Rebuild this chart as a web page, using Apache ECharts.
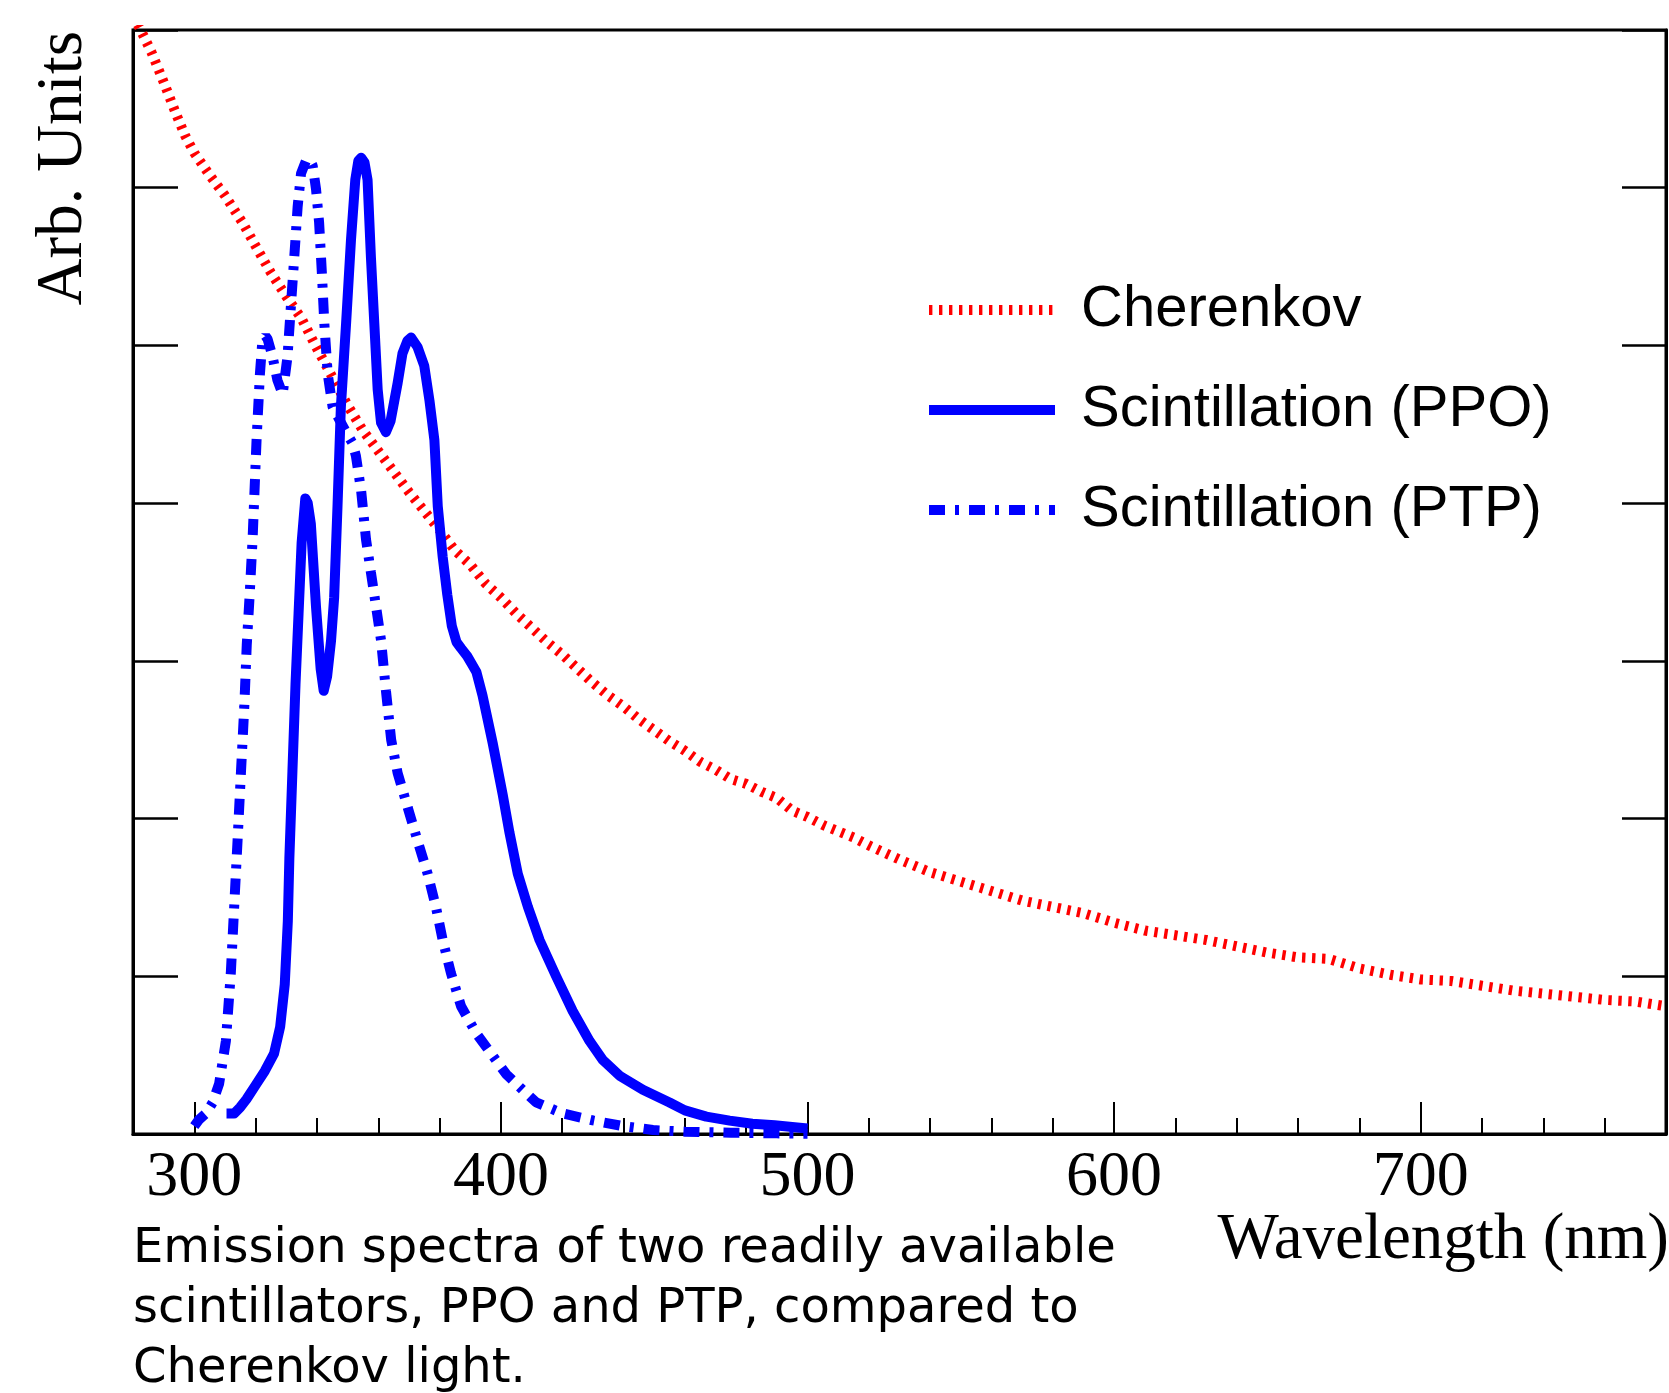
<!DOCTYPE html>
<html>
<head>
<meta charset="utf-8">
<script src="https://cdn.jsdelivr.net/npm/echarts@6/dist/echarts.min.js"></script>
<style>
html,body{margin:0;padding:0;background:#fff;}
#chart{width:1669px;height:1393px;}
</style>
</head>
<body>
<div id="chart"></div>
<script>
// ---- data ----
const xTickLabels = [300, 400, 500, 600, 700];
const seriesNames = ['Cherenkov', 'Scintillation (PPO)', 'Scintillation (PTP)'];
const xTitle = 'Wavelength (nm)';
const yTitle = 'Arb. Units';
const captionLines = [
  'Emission spectra of two readily available',
  'scintillators, PPO and PTP, compared to',
  'Cherenkov light.'
];

const cherWl = [280, 282.5, 286, 290, 294, 297, 300, 305, 310, 316, 320,
  325, 330, 335, 340, 345, 350, 355, 360, 365, 370,
  375, 380, 385, 390, 395, 400, 405, 410, 415, 420,
  425, 430, 435, 440, 445, 450, 455, 460, 465, 470,
  475, 480, 485, 490, 495, 500, 505, 510, 515, 520,
  530, 540, 550, 560, 570, 580, 590, 600, 610, 620,
  630, 640, 650, 660, 670, 680, 690, 700, 710, 720,
  730, 740, 750, 760, 770, 780];
const cherVal = [7.09, 7.0, 6.86, 6.67, 6.47, 6.33, 6.22, 6.08, 5.95, 5.77, 5.63,
  5.46, 5.31, 5.17, 4.98, 4.80, 4.62, 4.46, 4.33, 4.20, 4.07,
  3.95, 3.83, 3.70, 3.61, 3.49, 3.40, 3.30, 3.21, 3.12, 3.04,
  2.95, 2.86, 2.78, 2.71, 2.63, 2.56, 2.49, 2.43, 2.36, 2.31,
  2.25, 2.22, 2.17, 2.13, 2.05, 2.01, 1.96, 1.92, 1.88, 1.83,
  1.74, 1.66, 1.60, 1.54, 1.48, 1.44, 1.40, 1.34, 1.29, 1.26,
  1.23, 1.19, 1.15, 1.12, 1.11, 1.05, 1.01, 0.98, 0.97, 0.94,
  0.91, 0.89, 0.87, 0.85, 0.84, 0.81];

const ppoWl = [310.5, 313, 315, 317, 320, 323, 326, 328, 329.5, 330.5,
  331, 332, 333, 334, 335, 336.2, 337, 338, 339.7, 341.2,
  342.2, 343.3, 344.6, 345.6, 346.7, 347.8, 349.5, 351.1, 352.5, 353.5,
  354.4, 355.5, 356.5, 357.6, 358.7, 359.8, 360.9, 362.5, 364, 366.3,
  367.9, 369.5, 370.7, 372.8, 375, 376.7, 378.3, 379.4, 381, 382.5,
  384, 385.5, 387, 389, 390.5, 392, 394, 397.3, 400.6, 402.8,
  405.5, 408.8, 412.6, 418, 423.4, 428.9, 433.2, 438.7, 446.3, 455,
  460, 467, 474.6, 482, 489.3, 495, 500];
const ppoVal = [0.13, 0.13, 0.17, 0.22, 0.31, 0.40, 0.51, 0.68, 0.95, 1.35,
  1.75, 2.3, 2.85, 3.3, 3.75, 4.03, 4.0, 3.87, 3.34, 2.95,
  2.81, 2.9, 3.13, 3.4, 3.98, 4.61, 5.14, 5.67, 6.05, 6.17,
  6.19, 6.16, 6.05, 5.56, 5.14, 4.72, 4.51, 4.45, 4.52, 4.76,
  4.95, 5.03, 5.05, 4.99, 4.87, 4.65, 4.40, 3.98, 3.66, 3.42,
  3.22, 3.12, 3.08, 3.03, 2.98, 2.93, 2.78, 2.48, 2.15, 1.91,
  1.65, 1.44, 1.23, 1.0, 0.78, 0.59, 0.47, 0.37, 0.28, 0.2,
  0.15, 0.11, 0.085, 0.065, 0.055, 0.045, 0.035];

const ptpWl = [300, 301.5, 303.8, 306, 308.1, 310.3, 311.9, 313, 314.1, 315.2,
  316.3, 317.1, 318, 319, 320.3, 321.4, 322.2, 323.2, 323.9, 325.5,
  327.1, 328.8, 330.4, 331.5, 332.6, 333.7, 334.8, 336.4, 337.5, 338.6,
  339.7, 340.7, 341.6, 342.4, 343.5, 345.1, 347.3, 349.5, 351.6, 352.7,
  354.4, 356, 357.6, 359.3, 360.9, 362.5, 364.2, 366.3, 369.6, 372.8,
  376.1, 378.8, 381, 383.7, 387, 391.9, 396.8, 401.7, 407.1, 411.5,
  420.2, 430, 439.8, 449.6, 460, 475, 490, 500];
const ptpVal = [0.05, 0.09, 0.13, 0.2, 0.32, 0.59, 1.02, 1.44, 1.86, 2.29,
  2.71, 3.1, 3.4, 3.77, 4.40, 4.82, 5.03, 5.06, 5.04, 4.93,
  4.78, 4.69, 4.93, 5.25, 5.56, 5.88, 6.09, 6.17, 6.18, 6.14,
  5.99, 5.78, 5.46, 5.14, 4.82, 4.61, 4.53, 4.45, 4.38, 4.30,
  4.08, 3.77, 3.56, 3.34, 3.13, 2.81, 2.50, 2.29, 2.07, 1.86,
  1.65, 1.44, 1.23, 1.02, 0.81, 0.64, 0.51, 0.38, 0.28, 0.20,
  0.13, 0.086, 0.05, 0.025, 0.015, 0.008, 0.004, 0.002];

function pairs(xs, ys) { return xs.map(function (x, i) { return [x, ys[i]]; }); }

const chart = echarts.init(document.getElementById('chart'), null, { renderer: 'canvas' });

const axisBlack = { color: '#000', width: 3 };

const option = {
  backgroundColor: '#fff',
  animation: false,
  grid: {
    left: 133, top: 30, right: 3, bottom: 259,
    show: true, borderColor: '#000', borderWidth: 3, backgroundColor: 'transparent'
  },
  title: {
    text: captionLines.join('\n'),
    left: 133, top: 1220, padding: 0,
    textStyle: { fontFamily: 'DejaVu Sans', fontSize: 48, fontWeight: 'normal', color: '#000', lineHeight: 60 }
  },
  legend: {
    orient: 'vertical', left: 924, top: 280, padding: 0,
    itemWidth: 126, itemHeight: 20, itemGap: 40,
    textStyle: { fontFamily: 'Liberation Sans', fontSize: 58, color: '#000', lineHeight: 60, padding: [0, 0, 0, 21] },
    lineStyle: { width: 10 },
    itemStyle: { color: 'rgba(0,0,0,0)', borderWidth: 0, opacity: 0 },
    data: seriesNames
  },
  xAxis: [
    {
      type: 'value', min: 280, max: 780, interval: 20, position: 'bottom',
      axisLine: { show: true, onZero: false, lineStyle: axisBlack },
      axisTick: { show: true, inside: true, length: 16, lineStyle: { color: '#000', width: 2 } },
      axisLabel: {
        show: true, margin: 12, fontFamily: 'Liberation Serif', fontSize: 64, color: '#000',
        showMinLabel: true, showMaxLabel: true,
        formatter: function (v) { var r = Math.round(v); return xTickLabels.indexOf(r) >= 0 ? String(r) : ''; }
      },
      splitLine: { show: false }
    },
    {
      type: 'value', min: 280, max: 780, interval: 20, position: 'bottom',
      axisLine: { show: false, onZero: false },
      axisTick: { show: true, inside: true, length: 32, customValues: xTickLabels, lineStyle: { color: '#000', width: 2 } },
      axisLabel: { show: false },
      splitLine: { show: false }
    }
  ],
  yAxis: [
    {
      type: 'value', min: 0, max: 7, interval: 1, position: 'left',
      axisLine: { show: true, onZero: false, lineStyle: axisBlack },
      axisTick: { show: true, inside: true, length: 45, lineStyle: { color: '#000', width: 2.5 } },
      axisLabel: { show: false },
      splitLine: { show: false }
    },
    {
      type: 'value', min: 0, max: 7, interval: 1, position: 'right',
      axisLine: { show: true, onZero: false, lineStyle: axisBlack },
      axisTick: { show: true, inside: true, length: 44, lineStyle: { color: '#000', width: 2.5 } },
      axisLabel: { show: false },
      splitLine: { show: false }
    }
  ],
  graphic: [
    {
      type: 'text', x: 1669, y: 1241, z: 10,
      style: { text: xTitle, fontFamily: 'Liberation Serif', fontSize: 65, fill: '#000', align: 'right', verticalAlign: 'middle' }
    },
    {
      type: 'text', x: 64, y: 31, rotation: Math.PI / 2, z: 10,
      style: { text: yTitle, fontFamily: 'Liberation Serif', fontSize: 65, fill: '#000', align: 'right', verticalAlign: 'middle' }
    }
  ],
  series: [
    {
      name: seriesNames[0], type: 'line', xAxisIndex: 0, yAxisIndex: 0,
      data: pairs(cherWl, cherVal), symbol: 'none', showSymbol: false, clip: true,
      lineStyle: { color: '#ff0000', width: 10, type: [3.4, 6.6], cap: 'butt' },
      itemStyle: { color: '#ff0000' }
    },
    {
      name: seriesNames[1], type: 'line', xAxisIndex: 0, yAxisIndex: 0,
      data: pairs(ppoWl, ppoVal), symbol: 'none', showSymbol: false, clip: true,
      lineStyle: { color: '#0000ff', width: 10, type: 'solid', join: 'round' },
      itemStyle: { color: '#0000ff' }
    },
    {
      name: seriesNames[2], type: 'line', xAxisIndex: 0, yAxisIndex: 0,
      data: pairs(ptpWl, ptpVal), symbol: 'none', showSymbol: false, clip: true,
      lineStyle: { color: '#0000ff', width: 10, type: [16, 10, 4, 10], cap: 'butt' },
      itemStyle: { color: '#0000ff' }
    }
  ]
};

chart.setOption(option);
</script>
</body>
</html>
